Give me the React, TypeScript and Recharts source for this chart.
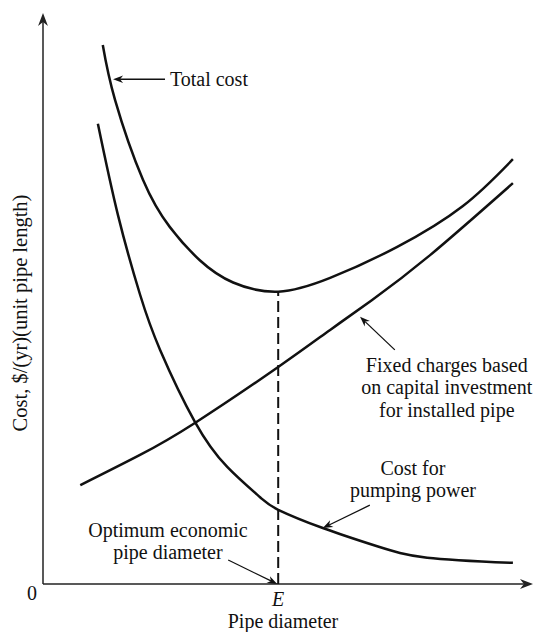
import React from 'react';
import { LineChart, Line, XAxis, YAxis, ReferenceLine, ReferenceDot, Label } from 'recharts';

// Curves (x: pipe diameter, y: cost), arbitrary units 0..100
const totalCost = [
  { x: 12.2, y: 94.4 }, { x: 14.7, y: 84.8 }, { x: 20.4, y: 70.8 }, { x: 25.9, y: 62.5 },
  { x: 32.0, y: 56.7 }, { x: 38.8, y: 52.8 }, { x: 48.0, y: 51.2 },
  { x: 58.6, y: 53.6 }, { x: 72.2, y: 59.0 }, { x: 85.7, y: 66.2 }, { x: 95.9, y: 74.4 },
];
const fixedCharges = [
  { x: 7.6, y: 17.3 }, { x: 19.8, y: 22.6 }, { x: 31.0, y: 28.2 }, { x: 48.0, y: 38.0 },
  { x: 58.6, y: 44.5 }, { x: 67.1, y: 49.7 }, { x: 79.0, y: 57.6 }, { x: 95.9, y: 70.2 },
];
const pumpingPower = [
  { x: 11.2, y: 80.6 }, { x: 15.3, y: 64.6 }, { x: 19.8, y: 50.7 }, { x: 23.9, y: 41.0 },
  { x: 31.0, y: 28.4 }, { x: 37.6, y: 20.5 }, { x: 44.3, y: 15.2 }, { x: 48.0, y: 13.0 },
  { x: 57.1, y: 9.8 }, { x: 68.2, y: 6.6 }, { x: 78.4, y: 4.6 }, { x: 95.9, y: 3.7 },
];
const optimumX = 48.0;
const optimumY = 51.2;
const xTicks = [optimumX];
const xTickLabels = ['E'];
const yTicks = [0];
const yTickLabels = ['0'];

const FONT = '"Liberation Serif", "Times New Roman", serif';
const INK = '#111';
const FS = 20;

const arrowShape = (headSize: number, width: number, color: string) => (p: any) => {
  const { x1, y1, x2, y2 } = p;
  const ang = Math.atan2(y2 - y1, x2 - x1);
  const L = headSize, W = headSize * 0.38;
  const bx = x2 - L * Math.cos(ang), by = y2 - L * Math.sin(ang);
  const nx = -Math.sin(ang), ny = Math.cos(ang);
  const mx = x2 - L * 0.7 * Math.cos(ang), my = y2 - L * 0.7 * Math.sin(ang);
  const pts = `${x2},${y2} ${bx + nx * W},${by + ny * W} ${mx},${my} ${bx - nx * W},${by - ny * W}`;
  return (
    <g>
      <line x1={x1} y1={y1} x2={mx} y2={my} stroke={color} strokeWidth={width} />
      <polygon points={pts} fill={color} />
    </g>
  );
};

const textShape = (lines: string[], anchor: 'start' | 'middle' | 'end', lineH: number, size: number) => (p: any) => {
  const { cx, cy } = p;
  return (
    <text x={cx} y={cy} textAnchor={anchor} fontFamily={FONT} fontSize={size} fill={INK}>
      {lines.map((l, i) => (
        <tspan key={i} x={cx} y={cy + i * lineH} dominantBaseline="central">{l}</tspan>
      ))}
    </text>
  );
};

export default function App() {
  return (
    <div style={{ position: 'absolute', left: 0, top: 0, background: '#fff' }}>
      <LineChart width={535} height={632} margin={{ top: 13, right: 2, left: 0, bottom: 0 }}>
        <XAxis
          type="number" dataKey="x" domain={[0, 100]} allowDataOverflow height={48}
          ticks={xTicks} axisLine={false} tickLine={false} tickSize={0} tickMargin={0}
          tick={(p: any) => (
            <text x={p.x} y={p.y + 22} textAnchor="middle" fontFamily={FONT} fontStyle="italic" fontSize={FS} fill={INK}>
              {xTickLabels[xTicks.indexOf(p.payload.value)]}
            </text>
          )}
        >
          <Label content={(p: any) => (
            <text x={p.viewBox.x + 240} y={p.viewBox.y + 44} textAnchor="middle" fontFamily={FONT} fontSize={FS} fill={INK}>
              Pipe diameter
            </text>
          )} />
        </XAxis>
        <YAxis
          type="number" dataKey="y" domain={[0, 100]} allowDataOverflow width={43}
          ticks={yTicks} axisLine={false} tickLine={false} tickSize={0} tickMargin={0}
          tick={(p: any) => (
            <text x={p.x - 11} y={p.y + 16} textAnchor="middle" fontFamily={FONT} fontSize={FS} fill={INK}>
              {yTickLabels[yTicks.indexOf(p.payload.value)]}
            </text>
          )}
        >
          <Label content={() => (
            <text x={20} y={313} transform="rotate(-90, 20, 313)" textAnchor="middle" dominantBaseline="central" fontFamily={FONT} fontSize={20.5} fill={INK}>
              Cost, $/(yr)(unit pipe length)
            </text>
          )} />
        </YAxis>

        {/* axes with arrows */}
        <ReferenceLine segment={[{ x: 0, y: 0 }, { x: 100, y: 0 }]} shape={arrowShape(13, 1.5, '#222')} ifOverflow="visible" />
        <ReferenceLine segment={[{ x: 0, y: 0 }, { x: 0, y: 100 }]} shape={arrowShape(13, 1.5, '#222')} ifOverflow="visible" />

        {/* optimum dashed line */}
        <ReferenceLine segment={[{ x: optimumX, y: 0 }, { x: optimumX, y: optimumY }]} stroke={INK} strokeWidth={2} strokeDasharray="11 5" ifOverflow="visible" />

        <Line data={totalCost} dataKey="y" type="natural" stroke={INK} strokeWidth={2.5} dot={false} isAnimationActive={false} />
        <Line data={fixedCharges} dataKey="y" type="natural" stroke={INK} strokeWidth={2.5} dot={false} isAnimationActive={false} />
        <Line data={pumpingPower} dataKey="y" type="natural" stroke={INK} strokeWidth={2.5} dot={false} isAnimationActive={false} />

        {/* annotation arrows */}
        <ReferenceLine segment={[{ x: 24.9, y: 88.4 }, { x: 14.3, y: 88.4 }]} shape={arrowShape(10, 1.3, INK)} ifOverflow="visible" />
        <ReferenceLine segment={[{ x: 71.8, y: 41.0 }, { x: 64.7, y: 46.8 }]} shape={arrowShape(10, 1.3, INK)} ifOverflow="visible" />
        <ReferenceLine segment={[{ x: 66.7, y: 13.8 }, { x: 57.1, y: 9.8 }]} shape={arrowShape(10, 1.3, INK)} ifOverflow="visible" />
        <ReferenceLine segment={[{ x: 37.8, y: 4.2 }, { x: 47.8, y: 0 }]} shape={arrowShape(10, 1.3, INK)} ifOverflow="visible" />

        {/* annotation texts */}
        <ReferenceDot x={25.9} y={88.4} r={0} ifOverflow="visible" shape={textShape(['Total cost'], 'start', 22, FS)} />
        <ReferenceDot x={82.4} y={38.4} r={0} ifOverflow="visible" shape={textShape(['Fixed charges based', 'on capital investment', 'for installed pipe'], 'middle', 22.5, FS)} />
        <ReferenceDot x={75.5} y={20.3} r={0} ifOverflow="visible" shape={textShape(['Cost for', 'pumping power'], 'middle', 22, FS)} />
        <ReferenceDot x={25.5} y={9.5} r={0} ifOverflow="visible" shape={textShape(['Optimum economic', 'pipe diameter'], 'middle', 22, FS)} />
      </LineChart>
    </div>
  );
}
